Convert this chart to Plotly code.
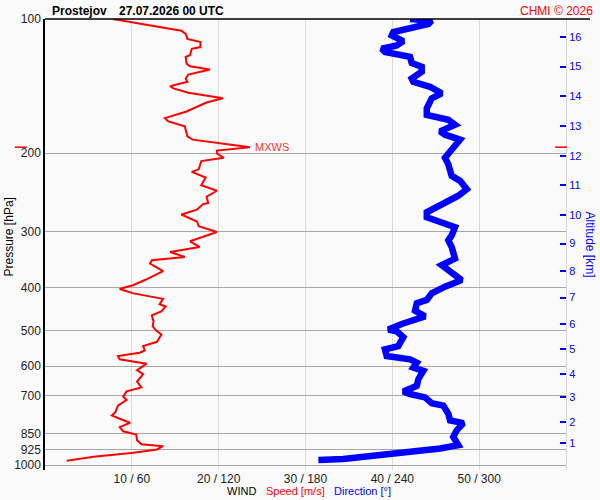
import numpy as np
import plotly.graph_objects as go

# Wind speed profile (m/s) vs pressure (hPa)
speed_hpa = [100, 101.7, 106.2, 108.0, 110.8, 112.6, 115.6, 116.6, 120.6, 121.6,
             125.9, 127.6, 129.8, 133.2, 136.0, 138.3, 141.4, 143.1, 146.3, 150.6,
             153.9, 161.2, 166.8, 169.7, 174.1, 183.2, 186.4, 192.2, 193.8, 197.2,
             200.3, 204.7, 208.2, 217.3, 220.2, 226.7, 235.8, 242.7, 250.3, 258.6,
             260.0, 267.5, 274.4, 284.4, 291.3, 300.4, 308.3, 315.1, 324.4, 332.9,
             341.5, 347.4, 353.5, 367.5, 384.8, 394.8, 403.0, 412.2, 424.1, 435.9,
             441.1, 452.5, 461.8, 476.3, 488.6, 499.4, 509.7, 529.4, 541.2, 553.3,
             560.1, 569.6, 579.4, 592.6, 612.9, 625.6, 649.8, 669.9, 683.8, 702.6,
             714.5, 735.6, 761.3, 774.3, 787.5, 803.8, 822.1, 840.3, 854.7, 879.9,
             898.1, 907.4, 922.8, 939.0, 958.6, 978.3]
speed_ms = [7.8, 10.1, 15.7, 16.2, 16.4, 17.9, 17.9, 16.9, 16.7, 16.2,
            16.3, 16.7, 19.0, 16.5, 16.2, 16.4, 14.4, 14.8, 16.5, 20.5,
            18.6, 16.3, 13.8, 14.2, 16.1, 16.4, 17.0, 22.1, 23.6, 19.8,
            19.8, 20.6, 18.0, 17.7, 16.9, 18.5, 18.0, 19.8, 18.6, 18.8,
            18.2, 17.5, 15.7, 17.5, 17.7, 19.8, 18.0, 16.7, 17.8, 14.4,
            16.1, 12.3, 12.1, 13.6, 11.5, 10.2, 8.6, 10.2, 13.6, 13.2,
            13.9, 13.4, 12.3, 12.5, 12.4, 12.8, 13.4, 12.9, 11.3, 11.5,
            10.9, 8.4, 8.6, 11.7, 10.6, 11.3, 10.6, 11.1, 9.4, 9.0,
            9.4, 8.4, 8.1, 7.7, 8.6, 9.8, 8.6, 9.0, 10.5, 10.6,
            11.1, 13.6, 12.9, 10.2, 5.6, 2.5]

# Wind direction profile (deg) vs pressure (hPa)
dir_hpa = [100, 100.9, 102.6, 107.0, 108.9, 112.1, 114.6, 116.6, 118.6, 121.6,
           125.5, 128.0, 131.3, 136.0, 138.3, 141.9, 146.8, 150.6, 158.5, 164.0,
           168.3, 172.6, 178.6, 181.7, 186.4, 192.8, 204.7, 211.8, 224.8, 230.6,
           240.8, 249.0, 260.0, 271.3, 278.3, 285.5, 292.9, 305.6, 313.5, 324.4,
           344.5, 356.4, 368.8, 384.8, 398.1, 412.1, 426.3, 433.7, 450.8, 464.2,
           482.8, 496.8, 501.2, 516.8, 541.2, 550.5, 569.6, 579.4, 589.5, 604.8,
           615.1, 641.8, 664.3, 683.8, 693.1, 705.2, 727.1, 735.6, 767.6, 794.3,
           805.4, 836.0, 865.2, 902.7, 918.2, 934.1, 950.2, 966.2, 969.8, 974.8]
dir_deg = [252.2, 267.2, 264.9, 240.7, 239.6, 247.6, 243.0, 232.7, 234.9, 252.2,
           253.4, 260.3, 260.3, 253.4, 254.5, 266.0, 274.1, 267.2, 263.8, 263.8,
           278.7, 283.3, 273.0, 276.4, 286.8, 283.3, 276.4, 278.7, 281.0, 286.8,
           291.4, 285.6, 275.2, 263.8, 263.8, 273.0, 283.3, 281.0, 278.7, 281.0,
           283.3, 274.1, 281.0, 287.9, 276.4, 267.2, 263.8, 256.9, 255.7, 262.6,
           246.5, 237.2, 243.0, 247.6, 244.1, 234.9, 236.1, 252.2, 256.9, 254.5,
           261.4, 258.0, 256.9, 247.6, 252.2, 262.6, 267.2, 275.2, 278.7, 279.9,
           289.1, 284.5, 282.1, 285.6, 273.0, 252.2, 239.6, 217.7, 206.1, 188.9]

pressure_ticks = [100, 200, 300, 400, 500, 600, 700, 850, 925, 1000]
wind_ticks = [10, 20, 30, 40, 50]
wind_labels = ["10 / 60", "20 / 120", "30 / 180", "40 / 240", "50 / 300"]

# altitude (km) levels of this sounding, located on the pressure scale
alt_km = list(range(1, 17))
alt_hpa = [894.6, 801.0, 705.0, 624.6, 549.5, 482.8, 421.2, 366.8,
           318.7, 275.4, 235.8, 202.6, 173.8, 149.1, 127.8, 109.6]

mxws_hpa = 193.8
mxws_ms = 23.6

yrange = [np.log10(1026), 2]  # high pressure at the bottom
font = "Liberation Sans, Arial, sans-serif"

fig = go.Figure()

fig.add_trace(go.Scatter(
    x=dir_deg, y=dir_hpa, xaxis="x2", yaxis="y",
    mode="lines", line=dict(color="#0000ff", width=6.5),
    name="Direction", hoverinfo="x+y"
))
fig.add_trace(go.Scatter(
    x=speed_ms, y=speed_hpa, xaxis="x", yaxis="y",
    mode="lines", line=dict(color="#ff0000", width=2),
    name="Speed", hoverinfo="x+y"
))
# empty trace so the altitude axis is drawn
fig.add_trace(go.Scatter(x=[None], y=[None], xaxis="x", yaxis="y2",
                         showlegend=False, hoverinfo="skip"))

fig.update_layout(
    width=600, height=500,
    margin=dict(l=45, r=34, t=15, b=30),
    paper_bgcolor="#fafafa", plot_bgcolor="#fafafa",
    showlegend=False,
    font=dict(family=font, size=12, color="#111"),
    xaxis=dict(range=[0, 60], tickvals=wind_ticks, ticktext=wind_labels,
               showgrid=True, gridcolor="#dcdcdc", gridwidth=1,
               zeroline=False, showline=False, ticks="",
               tickfont=dict(size=12, color="#222")),
    xaxis2=dict(range=[0, 360], overlaying="x", visible=False),
    yaxis=dict(type="log", range=yrange, tickvals=pressure_ticks,
               ticktext=[str(p) for p in pressure_ticks],
               showgrid=True, gridcolor="#a8a8a8", gridwidth=1,
               zeroline=False, showline=True, linecolor="black", linewidth=1.5,
               ticks="", tickfont=dict(size=12, color="#222")),
    yaxis2=dict(type="log", range=yrange, overlaying="y", side="right",
                tickvals=alt_hpa, ticktext=[str(k) for k in alt_km],
                ticks="inside", ticklen=6, tickwidth=1.5, tickcolor="#0000ff",
                tickfont=dict(size=11, color="#0000ff"),
                showgrid=False, zeroline=False,
                showline=True, linecolor="#d8d8d8", linewidth=1),
)

# top border line and MXWS markers
fig.add_shape(type="line", xref="paper", yref="paper", x0=0, x1=1.046, y0=1, y1=1,
              line=dict(color="black", width=1.5))
fig.add_shape(type="line", xref="paper", yref="y", x0=-0.058, x1=-0.035,
              y0=mxws_hpa, y1=mxws_hpa, line=dict(color="#ff0000", width=1.5))
fig.add_shape(type="line", xref="paper", yref="y", x0=0.979, x1=1.002,
              y0=mxws_hpa, y1=mxws_hpa, line=dict(color="#ff0000", width=1.5))

ann = [
    dict(text="<b>Prostejov</b>", x=0.0096, y=1.0176, xanchor="left",
         font=dict(size=12, color="black")),
    dict(text="<b>27.07.2026 00 UTC</b>", x=0.138, y=1.0176, xanchor="left",
         font=dict(size=12, color="black")),
    dict(text="CHMI © 2026", x=1.0557, y=1.0176, xanchor="right",
         font=dict(size=12, color="#ff0000")),
    dict(text="Pressure [hPa]", x=-0.086, y=0.516, textangle=-90,
         font=dict(size=12, color="black")),
    dict(text="Altitude [km]", x=1.0, xshift=33, y=0.5, textangle=90,
         font=dict(size=12, color="#0000ff")),
    dict(text="WIND", x=0.3455, y=-0.047, xanchor="left",
         font=dict(size=11, color="black")),
    dict(text="Speed [m/s]", x=0.4203, y=-0.047, xanchor="left",
         font=dict(size=11, color="#ff0000")),
    dict(text="Direction [°]", x=0.5509, y=-0.047, xanchor="left",
         font=dict(size=11, color="#0000ff")),
]
for a in ann:
    fig.add_annotation(xref="paper", yref="paper", showarrow=False,
                       yanchor="middle", **a)

fig.add_annotation(text="MXWS", xref="x", yref="y", x=mxws_ms, y=np.log10(mxws_hpa),
                   xanchor="left", yanchor="middle", xshift=3, showarrow=False,
                   font=dict(size=11, color="#ff3333"))

# drop the default page margin so the 600x500 figure fills the window
fig.write_html("out.html", config={"displayModeBar": False},
               post_script="document.body.style.margin='0';")
